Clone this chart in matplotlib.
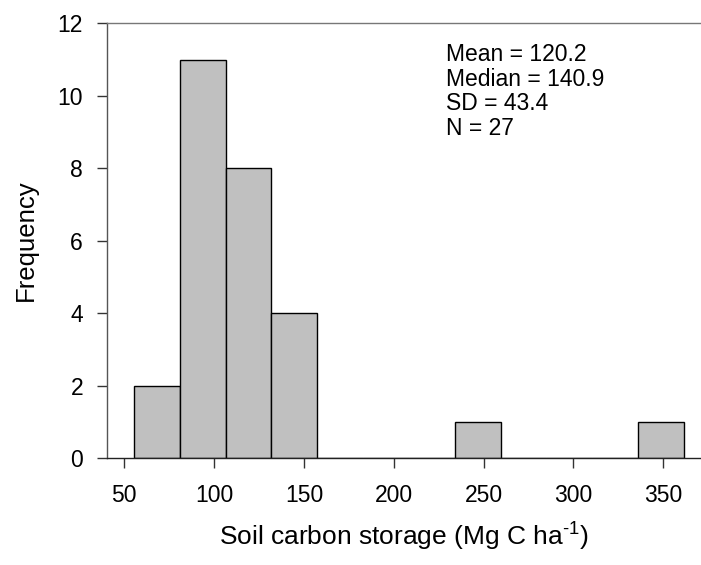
import numpy as np
import matplotlib
matplotlib.use("Agg")
import matplotlib.pyplot as plt

# histogram of soil carbon storage
bin_edges = [55.4, 80.9, 106.4, 131.9, 157.4, 182.9, 208.4, 233.9, 259.4, 284.9, 310.4, 335.9, 361.4]
counts = [2, 11, 8, 4, 0, 0, 0, 1, 0, 0, 0, 1]
x_ticks = [50, 100, 150, 200, 250, 300, 350]
y_ticks = [0, 2, 4, 6, 8, 10, 12]
stats_lines = ["Mean = 120.2", "Median = 140.9", "SD = 43.4", "N = 27"]

plt.rcParams['font.family'] = ['Liberation Sans', 'DejaVu Sans']
plt.rcParams['mathtext.fontset'] = 'custom'
plt.rcParams['mathtext.rm'] = 'Liberation Sans'
plt.rcParams['mathtext.it'] = 'Liberation Sans'

fig = plt.figure(figsize=(7.01, 5.65), dpi=100)
ax = fig.add_axes([0.1522, 0.1894, 0.8478, 0.7694])

edges = np.array(bin_edges)
widths = np.diff(edges)
ax.bar(edges[:-1], counts, width=widths, align='edge',
       color='#c0c0c0', edgecolor='black', linewidth=1.0)

ax.set_xlim(40.2, 371)
ax.set_ylim(0, 12)
ax.set_xticks(x_ticks)
ax.set_yticks(y_ticks)
ax.tick_params(direction='out', length=7, width=1, labelsize=16.5,
               color='#333333')
ax.tick_params(axis='y', pad=10)
ax.tick_params(axis='x', pad=12)

ax.spines['right'].set_visible(False)
ax.spines['top'].set_color('#777777')
ax.spines['left'].set_color('#555555')
ax.spines['bottom'].set_color('#222222')
for s in ax.spines.values():
    s.set_linewidth(1.0)

ax.set_ylabel("Frequency", fontsize=18.5, labelpad=14)
ax.set_xlabel(r"Soil carbon storage (Mg C ha$^{\text{-1}}$)", fontsize=19, labelpad=10)

for i, line in enumerate(stats_lines):
    ax.text(0.571, 0.9127 - i * 0.0563, line, transform=ax.transAxes,
            fontsize=16.5, va='baseline', ha='left')

fig.savefig("out.png", dpi=100)
